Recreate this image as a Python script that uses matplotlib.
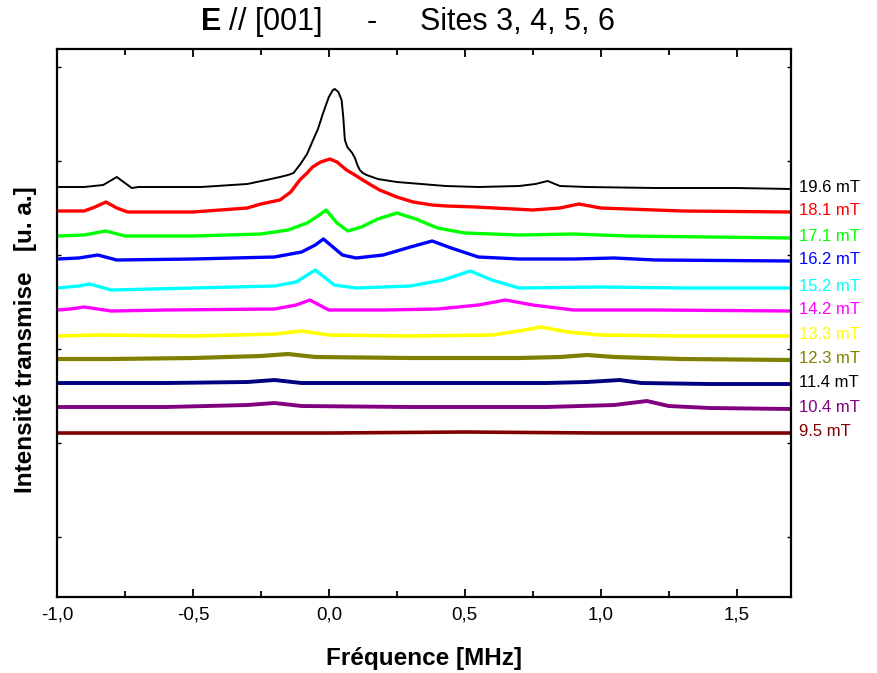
import numpy as np
import matplotlib
matplotlib.use("Agg")
import matplotlib.pyplot as plt
from matplotlib.ticker import MultipleLocator, FuncFormatter

plt.rcParams['font.family'] = ['Liberation Sans', 'DejaVu Sans']
plt.rcParams['mathtext.fontset'] = 'custom'
plt.rcParams['mathtext.bf'] = 'Liberation Sans:bold'
plt.rcParams['mathtext.rm'] = 'Liberation Sans'

# spectra: frequency (MHz) and transmitted intensity (a.u.)
black_f = [-1.0, -0.9, -0.83, -0.78, -0.725, -0.7, -0.47, -0.3, -0.23, -0.18, -0.15, -0.13,
           -0.107, -0.08, -0.058, -0.04, -0.021, 0.0, 0.015, 0.022, 0.035, 0.047, 0.053,
           0.059, 0.068, 0.077, 0.086, 0.096, 0.105, 0.114, 0.125, 0.139, 0.18, 0.25, 0.43,
           0.55, 0.7, 0.76, 0.805, 0.85, 0.95, 1.2, 1.5, 1.7]
black_h = [410, 410, 412, 420, 409, 410, 410, 413, 417, 420, 422, 424,
           432, 443, 457, 468, 484, 500, 507, 508, 505, 497, 480,
           457, 450, 447, 444, 439, 432, 427, 424, 422, 418, 415, 411,
           410, 411, 413, 416, 411, 410, 409, 409, 408]

red_f = [-1.0, -0.9, -0.86, -0.82, -0.78, -0.74, -0.5, -0.3, -0.25, -0.18, -0.14, -0.107,
         -0.08, -0.06, -0.03, 0.004, 0.03, 0.065, 0.09, 0.125, 0.155, 0.187, 0.25, 0.31,
         0.38, 0.433, 0.54, 0.75, 0.85, 0.92, 1.0, 1.3, 1.7]
red_h = [386, 386, 390, 395, 389, 385, 385, 389, 393, 397, 405, 417,
         424, 430, 435, 438, 435, 427, 423, 417, 412, 407, 400, 395,
         392, 391, 390, 387, 389, 393, 389, 386, 385]

green_f = [-1.0, -0.9, -0.82, -0.75, -0.5, -0.25, -0.15, -0.08, -0.04, -0.01, 0.03, 0.07,
           0.12, 0.18, 0.25, 0.32, 0.4, 0.5, 0.7, 0.9, 1.1, 1.4, 1.7]
green_h = [361, 362, 366, 361, 361, 363, 367, 374, 381, 387, 374, 366,
           370, 378, 384, 378, 369, 364, 362, 363, 361, 360, 359]

blue_f = [-1.0, -0.92, -0.85, -0.78, -0.5, -0.2, -0.1, -0.05, -0.02, 0.05, 0.1, 0.2, 0.3,
          0.38, 0.45, 0.55, 0.7, 0.9, 1.05, 1.2, 1.7]
blue_h = [338, 339, 342, 337, 338, 340, 345, 352, 358, 342, 339, 342, 350,
          356, 349, 340, 338, 338, 339, 337, 336]

cyan_f = [-1.0, -0.92, -0.88, -0.8, -0.5, -0.2, -0.12, -0.05, 0.02, 0.1, 0.3, 0.42,
          0.52, 0.6, 0.7, 1.0, 1.3, 1.7]
cyan_h = [309, 311, 313, 307, 309, 311, 315, 327, 312, 309, 311, 317,
          326, 317, 309, 310, 309, 309]

magenta_f = [-1.0, -0.95, -0.9, -0.8, -0.6, -0.2, -0.12, -0.07, 0.0, 0.2, 0.4, 0.55,
             0.65, 0.75, 0.9, 1.2, 1.7]
magenta_h = [287, 288, 290, 286, 287, 288, 292, 297, 287, 287, 288, 292,
             297, 292, 287, 287, 286]

yellow_f = [-1.0, -0.85, -0.5, -0.2, -0.1, 0.0, 0.3, 0.6, 0.7, 0.78, 0.88, 1.0, 1.3, 1.7]
yellow_h = [261, 262, 261, 263, 266, 262, 261, 262, 266, 270, 265, 262, 261, 261]

olive_f = [-1.0, -0.8, -0.5, -0.25, -0.15, -0.05, 0.3, 0.7, 0.85, 0.95, 1.05, 1.3, 1.7]
olive_h = [238, 238, 239, 241, 243, 240, 239, 239, 240, 242, 240, 238, 237]

navy_f = [-1.0, -0.6, -0.3, -0.2, -0.1, 0.3, 0.8, 0.95, 1.07, 1.15, 1.4, 1.7]
navy_h = [214, 214, 215, 217, 214, 214, 214, 215, 217, 214, 213, 213]

purple_f = [-1.0, -0.6, -0.3, -0.2, -0.1, 0.3, 0.8, 1.05, 1.17, 1.25, 1.4, 1.7]
purple_h = [190, 190, 192, 194, 191, 190, 190, 192, 196, 191, 189, 188]

darkred_f = [-1.0, -0.5, 0.0, 0.5, 1.0, 1.7]
darkred_h = [164, 164, 164, 165, 164, 164]

fields = ["19.6 mT", "18.1 mT", "17.1 mT", "16.2 mT", "15.2 mT", "14.2 mT",
          "13.3 mT", "12.3 mT", "11.4 mT", "10.4 mT", "9.5 mT"]

traces = [(black_f, black_h), (red_f, red_h), (green_f, green_h), (blue_f, blue_h),
          (cyan_f, cyan_h), (magenta_f, magenta_h), (yellow_f, yellow_h),
          (olive_f, olive_h), (navy_f, navy_h), (purple_f, purple_h),
          (darkred_f, darkred_h)]

line_colors = ['#000000', '#FF0000', '#00FF00', '#0000FF', '#00FFFF', '#FF00FF',
               '#FFFF00', '#808000', '#000080', '#800080', '#800000']
label_colors = ['#000000', '#FF0000', '#00FF00', '#0000FF', '#00FFFF', '#FF00FF',
                '#FFFF00', '#808000', '#000000', '#800080', '#800000']
widths = [1.4, 2.4, 2.4, 2.4, 2.4, 2.4, 2.6, 3.0, 2.8, 2.8, 2.6]

fig = plt.figure(figsize=(8.78, 6.73), dpi=100)
ax = fig.add_axes([0.0649, 0.1129, 0.836, 0.8143])

for (f, h), c, lw in zip(traces, line_colors, widths):
    ax.plot(f, h, color=c, lw=lw, solid_joinstyle='round')

# field labels right of the frame
for (f, h), name, c in zip(traces, fields, label_colors):
    ax.text(1.011, h[-1] + 2, name, color=c, fontsize=12, va='center', ha='left',
            transform=ax.get_yaxis_transform())

ax.set_xlim(-1.0, 1.7)
ax.set_ylim(0, 548)
ax.xaxis.set_major_locator(MultipleLocator(0.5))
ax.xaxis.set_minor_locator(MultipleLocator(0.25))
ax.xaxis.set_major_formatter(FuncFormatter(lambda v, p: f"{v:.1f}".replace('.', ',')))
ax.set_yticks(np.arange(60, 540, 94))
ax.set_yticklabels([])
ax.tick_params(axis='x', which='major', direction='in', length=6, width=1.3,
               top=True, labelsize=13.5, pad=7)
ax.tick_params(axis='x', which='minor', direction='in', length=4, width=1.3, top=True)
ax.tick_params(axis='y', which='major', direction='in', length=3, width=1.0, right=True)
for s in ax.spines.values():
    s.set_linewidth(1.6)

ax.set_xlabel("Fréquence [MHz]", fontsize=17.5, fontweight='bold')
ax.xaxis.set_label_coords(0.5, -0.092)
ax.set_ylabel("Intensité transmise   [u. a.]", fontsize=17.5, fontweight='bold')
ax.yaxis.set_label_coords(-0.027, 0.469)

# title in three pieces, placed like the original
fig.text(200 / 878, 0.967, r"$\mathbf{E}$ // [001]", fontsize=22, ha='left', va='center')
fig.text(372 / 878, 0.967, "-", fontsize=22, ha='center', va='center')
fig.text(420 / 878, 0.967, "Sites 3, 4, 5, 6", fontsize=22, ha='left', va='center')

fig.savefig("out.png", dpi=100)
